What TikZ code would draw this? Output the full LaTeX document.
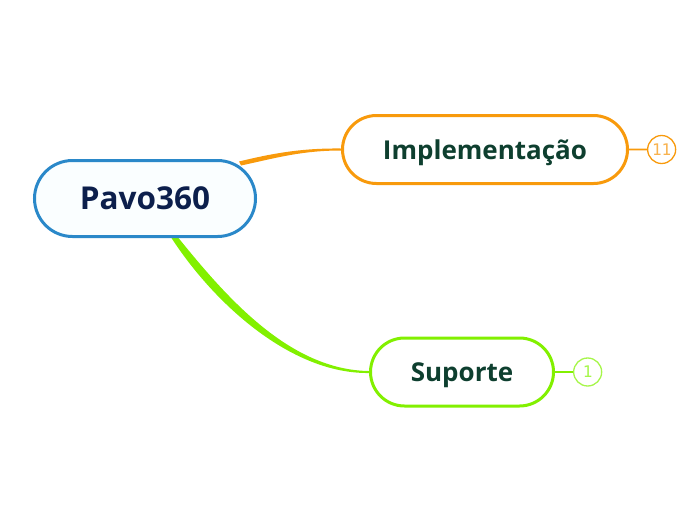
\documentclass[tikz,border=0pt]{standalone}
\usepackage{fontspec}
\setmainfont{Open Sans}
\newfontfamily\badgefont{DejaVu Sans Mono}
\usepackage{tikz}
\usetikzlibrary{positioning,calc,backgrounds,shapes.misc}
\definecolor{rootline}{HTML}{2A88C9}
\definecolor{rootfill}{HTML}{FAFEFF}
\definecolor{roottext}{HTML}{0C1F4C}
\definecolor{topictext}{HTML}{0E3F2F}
\definecolor{implline}{HTML}{F89A0C}
\definecolor{impllight}{HTML}{F8B24E}
\definecolor{supline}{HTML}{82F000}
\definecolor{suplight}{HTML}{A6F64A}
\tikzset{
  % --- central topic ---
  rootbox/.style={rounded rectangle, draw=rootline, line width=3pt,
                  fill=rootfill, text=roottext, inner sep=0pt, text depth=0pt,
                  minimum width=221pt, minimum height=76pt,
                  font=\fontsize{31.5}{32}\selectfont\bfseries},
  % --- main topics ---
  topicbox/.style={rounded rectangle, line width=3pt, fill=white,
                   text=topictext, inner sep=0pt, text depth=0pt,
                   minimum height=68pt,
                   font=\fontsize{26}{26}\selectfont\bfseries},
  % --- child count badges ---
  badge/.style={circle, line width=1.3pt, fill=white, inner sep=0pt,
                minimum size=28pt, font=\badgefont\fontsize{16}{16}\selectfont},
  badgelink/.style={line width=1.6pt},
}
\begin{document}
\begin{tikzpicture}[x=1pt,y=-1pt]
  \useasboundingbox (0,0) rectangle (696,520);
  % topics
  \node[rootbox] (root) at (145,198.5) {Pavo360};
  \node[topicbox, draw=implline, minimum width=285pt] (impl) at (485,149.5) {Implementação};
  \node[topicbox, draw=supline, minimum width=183pt] (sup) at (462,372) {Suporte};
  % badges
  \node[badge, draw=implline, text=impllight, right=18pt of impl] (implcount) {11};
  \node[badge, draw=suplight, text=suplight, right=18pt of sup] (supcount) {1};
  \draw[badgelink, implline] (impl) -- (implcount);
  \draw[badgelink, supline] (sup) -- (supcount);
  % branches (tapered, behind the boxes)
  \begin{scope}[on background layer]
    \fill[implline] ($(root.center)+(94,-37)$) .. controls (270,154) and (300,148) ..
      ($(impl.west)+(0,-1)$) -- ($(impl.west)+(0,1)$) .. controls (300,150.5) and (272,159) ..
      ($(root.center)+(96,-33)$) -- cycle;
    \fill[supline] ($(root.south)+(26.5,0)$) .. controls (213,302) and (290,374) ..
      ($(sup.west)+(0,1)$) -- ($(sup.west)+(0,-1)$) .. controls (290,370) and (227,298) ..
      ($(root.south)+(33.5,0)$) -- cycle;
  \end{scope}
\end{tikzpicture}
\end{document}
